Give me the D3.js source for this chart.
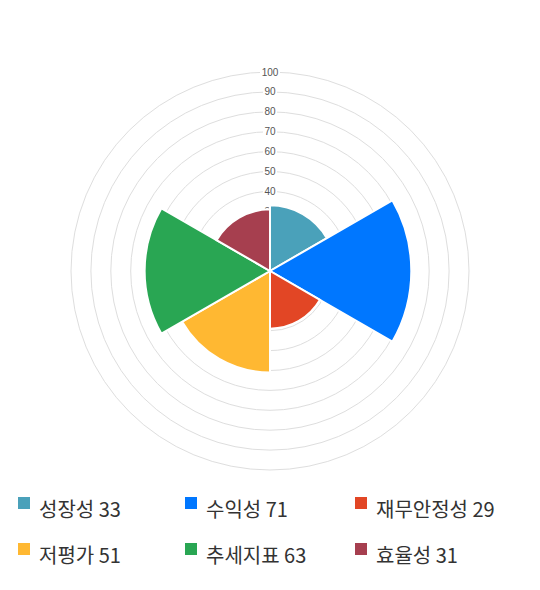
<!DOCTYPE html>
<html>
<head>
<meta charset="utf-8">
<script src="https://cdn.jsdelivr.net/npm/d3@7"></script>
<style>
  body { margin: 0; background: #fff; }
</style>
</head>
<body>
<div id="chart"></div>
<script>
// categories and values
const categories = ["성장성", "수익성", "재무안정성", "저평가", "추세지표", "효율성"]
const values = [33, 71, 29, 51, 63, 31]
const colors = ["#4aa1ba", "#0077ff", "#e24625", "#ffb832", "#29a653", "#a63f4f"]
const ringTicks = [10, 20, 30, 40, 50, 60, 70, 80, 90, 100]

const width = 540, height = 590
const cx = 270, cy = 271, maxR = 199

const svg = d3.select("#chart")
  .append("svg")
    .attr("width", width)
    .attr("height", height)

const r = d3.scaleLinear()
  .domain([0, 100])
  .range([0, maxR])

const g = svg.append("g")
  .attr("transform", `translate(${cx}, ${cy})`)

// rings
g.selectAll("circle.ring")
  .data(ringTicks)
  .join("circle")
    .attr("class", "ring")
    .attr("r", d => r(d))
    .attr("fill", "none")
    .attr("stroke", "#dedede")
    .attr("stroke-width", 1)

// tick labels with white backdrop
const tick = g.selectAll("g.tick")
  .data(ringTicks)
  .join("g")
    .attr("class", "tick")
    .attr("transform", d => `translate(0, ${-r(d)})`)

tick.append("rect")
  .attr("x", d => d === 100 ? -10 : -7)
  .attr("y", -6)
  .attr("width", d => d === 100 ? 20 : 14)
  .attr("height", 12)
  .attr("fill", "#fff")

tick.append("text")
  .attr("text-anchor", "middle")
  .attr("dy", "0.35em")
  .style("font", "10px 'Liberation Sans', Arial, sans-serif")
  .attr("fill", "#555")
  .text(d => d)

// sectors
const step = 2 * Math.PI / categories.length
const arc = d3.arc()
  .innerRadius(0)
  .outerRadius(d => r(d.value))
  .startAngle(d => d.i * step)
  .endAngle(d => (d.i + 1) * step)

g.selectAll("path.sector")
  .data(values.map((v, i) => ({value: v, i: i})))
  .join("path")
    .attr("class", "sector")
    .attr("d", arc)
    .attr("fill", d => colors[d.i])
    .attr("stroke", "#fff")
    .attr("stroke-width", 2)

// legend
const colX = [18, 185, 355]
const rowY = [497, 543]
const legend = svg.selectAll("g.legend")
  .data(categories)
  .join("g")
    .attr("class", "legend")
    .attr("transform", (d, i) => `translate(${colX[i % 3]}, ${rowY[Math.floor(i / 3)]})`)

legend.append("rect")
  .attr("width", 12)
  .attr("height", 12)
  .attr("fill", (d, i) => colors[i])

legend.append("text")
  .attr("x", 21)
  .attr("y", 20)
  .style("font", "20px 'Noto Sans CJK KR', sans-serif")
  .attr("fill", "#333")
  .text((d, i) => d + " " + values[i])
</script>
</body>
</html>
